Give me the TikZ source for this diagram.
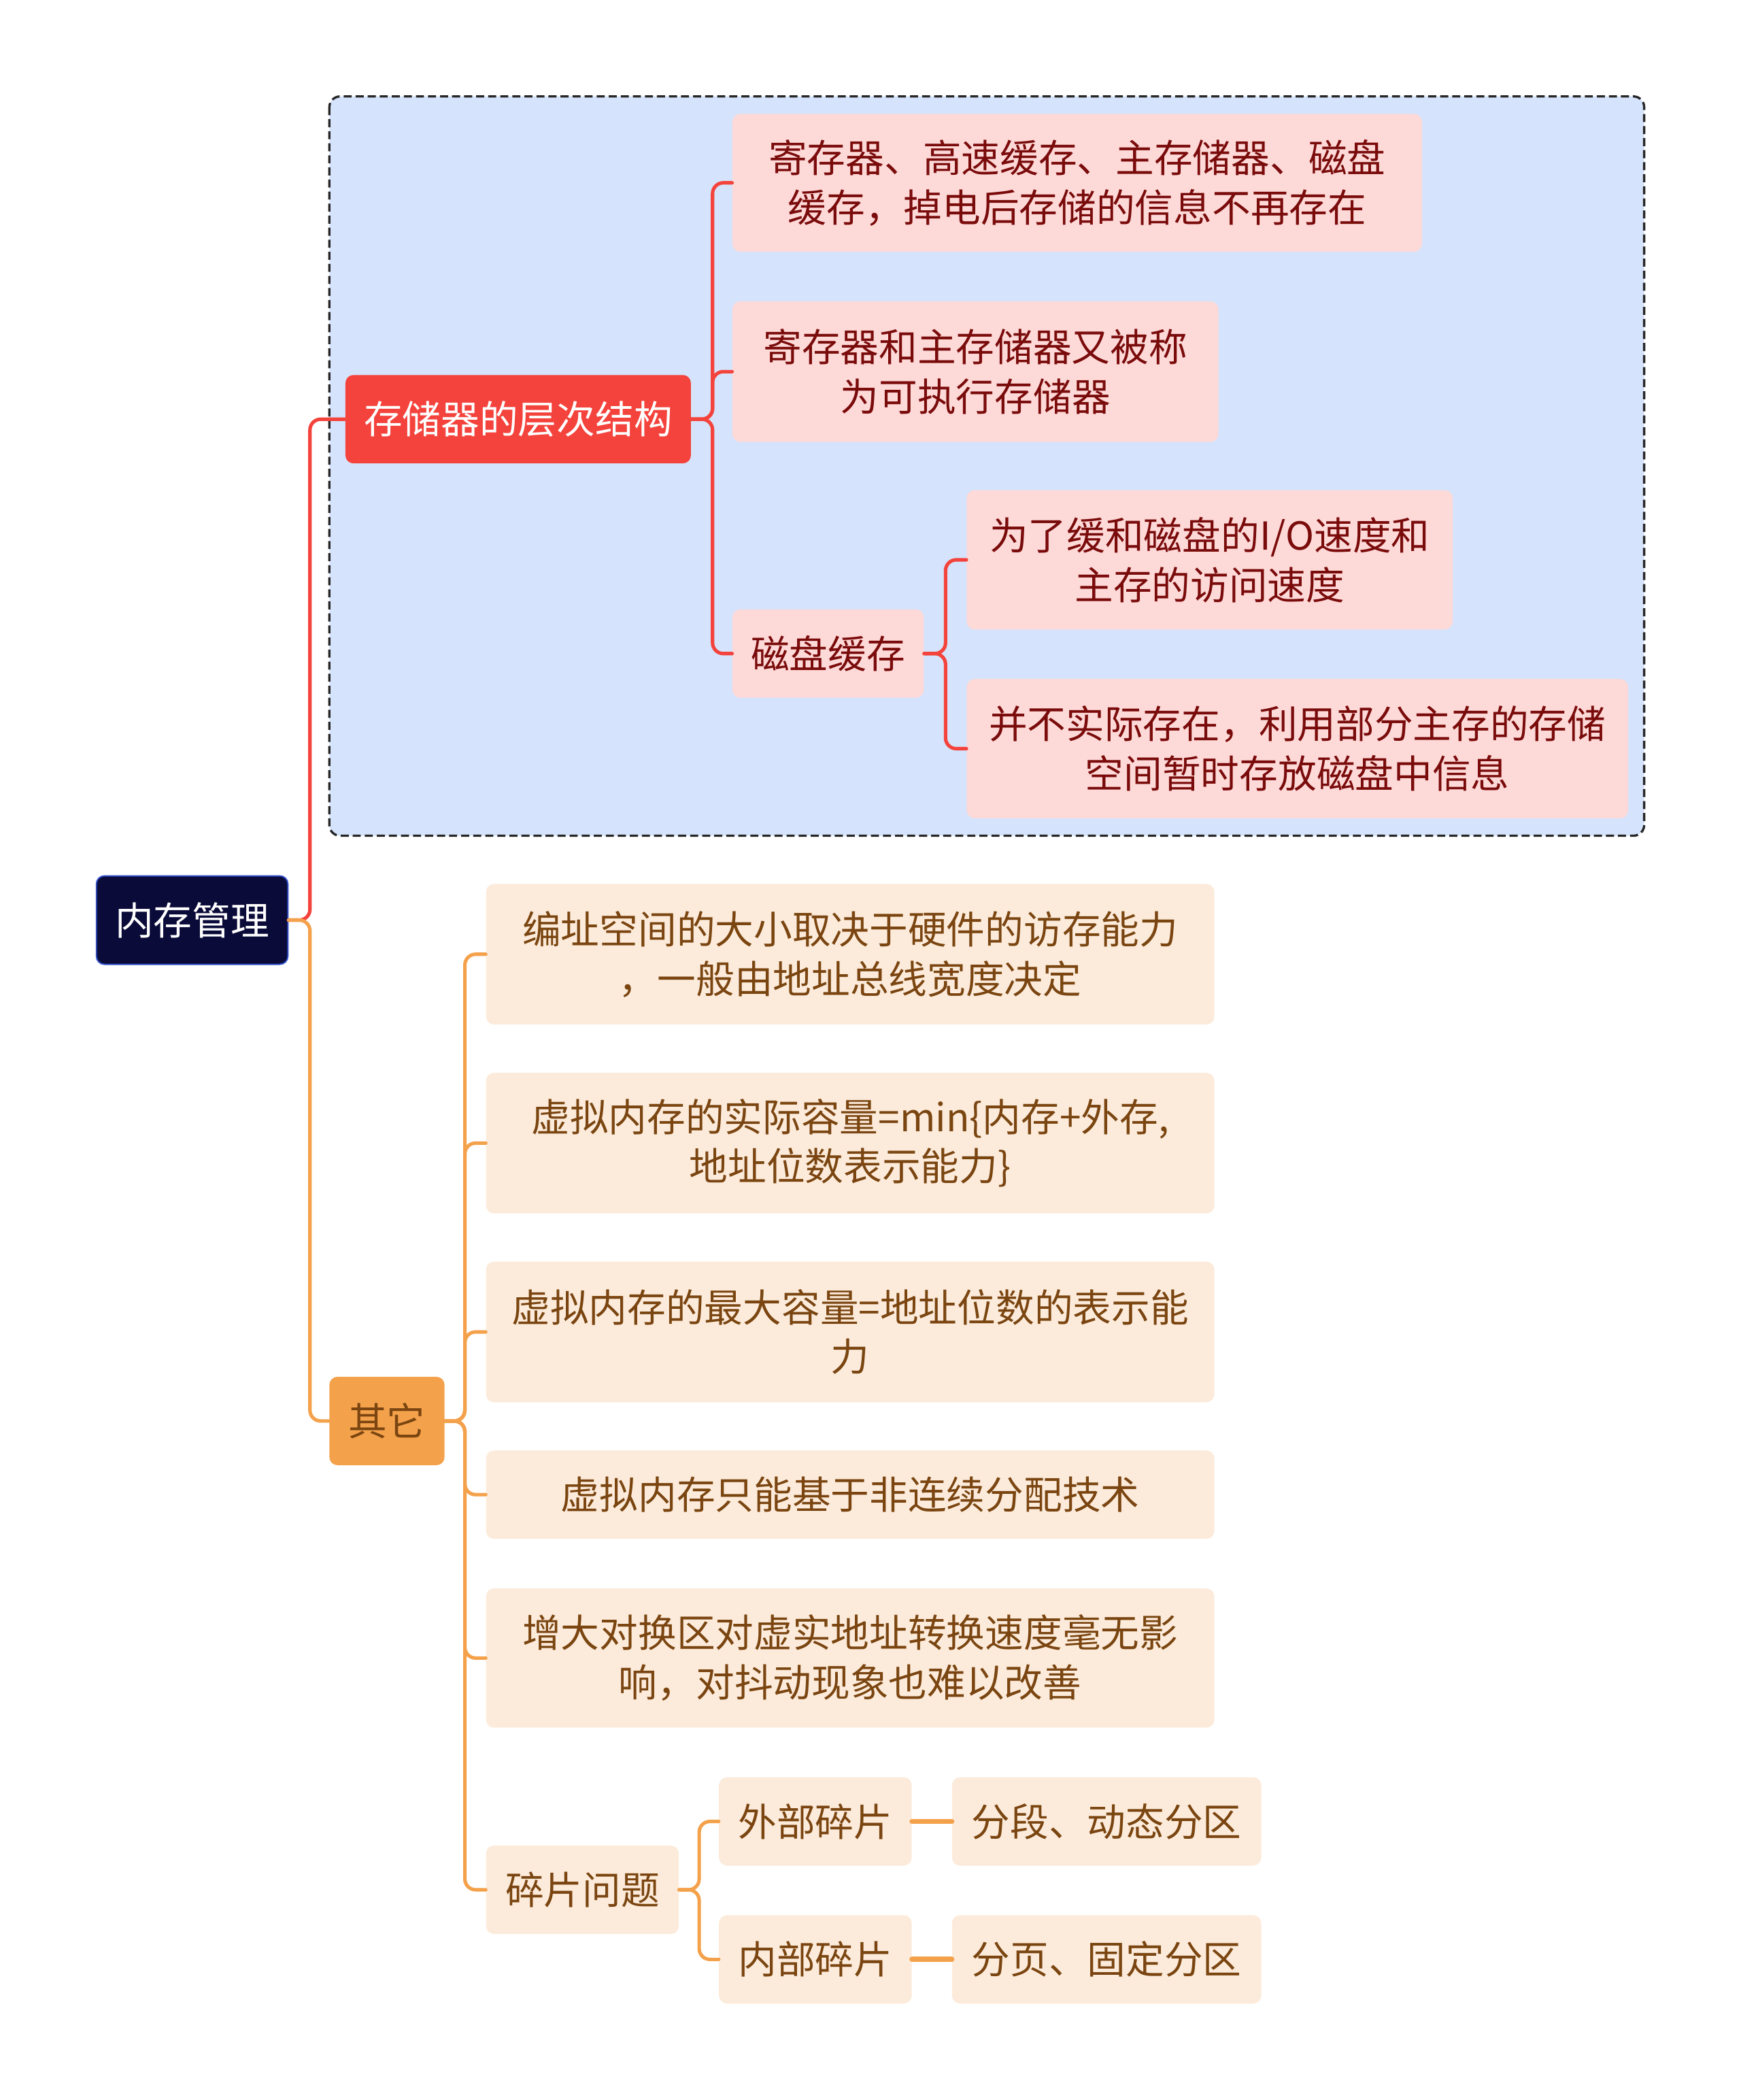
\documentclass[tikz,border=0pt]{standalone}
\usepackage{fontspec}
\setmainfont{Noto Sans CJK SC}
\usepackage{xcolor}
\usetikzlibrary{positioning}
\definecolor{rootfill}{HTML}{0B0B3A}
\definecolor{rootline}{HTML}{2F4FC8}
\definecolor{redmain}{HTML}{F4433C}
\definecolor{redsoft}{HTML}{FDD9D8}
\definecolor{redtext}{HTML}{7A0B0B}
\definecolor{orgmain}{HTML}{F4A14B}
\definecolor{orgsoft}{HTML}{FCEBDB}
\definecolor{orgtext}{HTML}{7A4510}
\definecolor{groupfill}{HTML}{D5E4FC}
\tikzset{
  box/.style={rounded corners=6pt, inner sep=0pt, align=center,
    font=\fontsize{28.8}{37}\selectfont},
  rootbox/.style={box, fill=rootfill, draw=rootline, line width=1pt, text=white},
  redbox/.style={box, fill=redmain, text=white},
  redleaf/.style={box, fill=redsoft, text=redtext},
  orgbox/.style={box, fill=orgmain, text=orgtext},
  orgleaf/.style={box, fill=orgsoft, text=orgtext},
  redlink/.style={draw=redmain, line width=2.6pt, rounded corners=8pt},
  orglink/.style={draw=orgmain, line width=2.6pt, rounded corners=8pt},
  groupbox/.style={fill=groupfill, draw=black!85, line width=1.7pt,
    dash pattern=on 6pt off 3pt, rounded corners=8pt},
  every picture/.style={line cap=round, line join=round}
}

\begin{document}
\begin{tikzpicture}[x=1pt, y=-1pt]
  \useasboundingbox (0,0) rectangle (1300,1568);

  % group frame
  \draw[groupbox, line cap=butt] (246,72) rectangle (1228,624);

  % root
  \node[rootbox, minimum width=143pt, minimum height=66pt] (mem) at (143.5,687) {内存管理};

  % upper branch
  \node[redbox, minimum width=258pt, minimum height=66pt] (hier) at (387,313) {存储器的层次结构};
  \node[redleaf, minimum width=515pt, minimum height=103pt] (hierA) at (804.5,136.5)
    {寄存器、高速缓存、主存储器、磁盘\\缓存，掉电后存储的信息不再存在};
  \node[redleaf, minimum width=363pt, minimum height=105pt] (hierB) at (728.5,277.5)
    {寄存器和主存储器又被称\\为可执行存储器};
  \node[redleaf, minimum width=143pt, minimum height=66pt] (disk) at (618.5,488) {磁盘缓存};
  \node[redleaf, minimum width=363pt, minimum height=104pt] (diskA) at (903.5,418)
    {为了缓和磁盘的I/O速度和\\主存的访问速度};
  \node[redleaf, minimum width=494pt, minimum height=104pt] (diskB) at (969,559)
    {并不实际存在，利用部分主存的存储\\空间暂时存放磁盘中信息};

  % lower branch
  \node[orgbox, minimum width=86pt, minimum height=66pt] (misc) at (289,1061) {其它};
  \node[orgleaf, minimum width=544pt, minimum height=105pt] (miscA) at (635,712.5)
    {编址空间的大小取决于硬件的访存能力\\，一般由地址总线宽度决定};
  \node[orgleaf, minimum width=544pt, minimum height=105pt] (miscB) at (635,853.5)
    {虚拟内存的实际容量=min\{内存+外存,\\地址位数表示能力\}};
  \node[orgleaf, minimum width=544pt, minimum height=105pt] (miscC) at (635,994.5)
    {虚拟内存的最大容量=地址位数的表示能\\力};
  \node[orgleaf, minimum width=544pt, minimum height=66pt] (miscD) at (635,1116)
    {虚拟内存只能基于非连续分配技术};
  \node[orgleaf, minimum width=544pt, minimum height=104pt] (miscE) at (635,1238)
    {增大对换区对虚实地址转换速度毫无影\\响，对抖动现象也难以改善};
  \node[orgleaf, minimum width=144pt, minimum height=66pt] (frag) at (435,1411) {碎片问题};
  \node[orgleaf, minimum width=144pt, minimum height=66pt] (ext) at (609,1360) {外部碎片};
  \node[orgleaf, minimum width=144pt, minimum height=66pt] (int) at (609,1463) {内部碎片};
  \node[orgleaf, minimum width=231pt, minimum height=66pt] (seg) at (826.5,1360) {分段、动态分区};
  \node[orgleaf, minimum width=231pt, minimum height=66pt] (page) at (826.5,1463) {分页、固定分区};

  % connectors
  \draw[redlink] (mem.east) -- ++(16,0) |- (hier.west);
  \draw[orglink] (mem.east) -- ++(16,0) |- (misc.west);
  \foreach \kid in {hierA,hierB,disk}
    \draw[redlink] (hier.east) -- ++(16,0) |- (\kid.west);
  \foreach \kid in {diskA,diskB}
    \draw[redlink] (disk.east) -- ++(16,0) |- (\kid.west);
  \foreach \kid in {miscA,miscB,miscC,miscD,miscE,frag}
    \draw[orglink] (misc.east) -- ++(15,0) |- (\kid.west);
  \foreach \kid in {ext,int}
    \draw[orglink] (frag.east) -- ++(15,0) |- (\kid.west);
  \draw[orgmain, line width=4pt] (ext) -- (seg);
  \draw[orgmain, line width=4pt] (int) -- (page);
\end{tikzpicture}
\end{document}
